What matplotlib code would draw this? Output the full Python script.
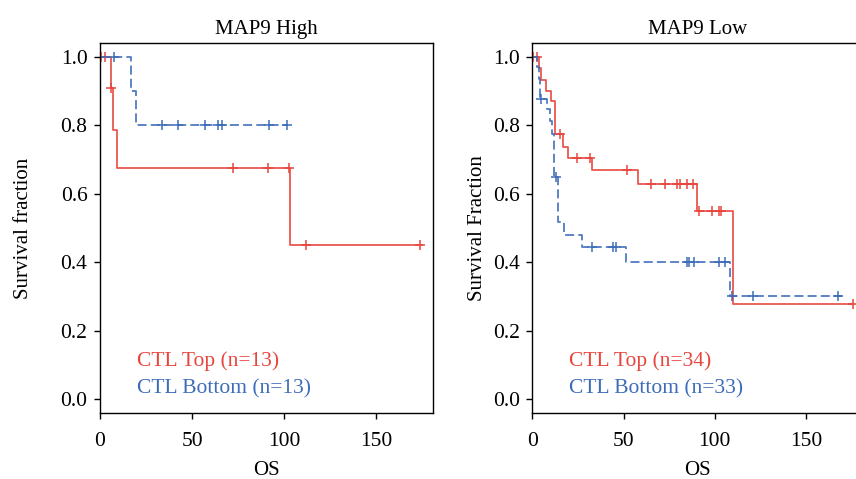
import matplotlib
matplotlib.use("Agg")
import matplotlib.pyplot as plt
import numpy as np

plt.rcParams['font.family'] = ['Liberation Serif', 'DejaVu Serif']
plt.rcParams['lines.scale_dashes'] = False

RED = '#E8453C'
BLUE = '#3D6CB9'

# MAP9 High panel
high_top_t = [0, 5.8, 7.2, 9.0, 103.0]
high_top_s = [1.0, 0.909, 0.787, 0.675, 0.45]
high_top_end = 175.0
high_top_cens = [0.5, 2.7, 6.2, 72.0, 91.4, 102.7, 111.7, 174.0]

high_bot_t = [0, 16.6, 19.5]
high_bot_s = [1.0, 0.9, 0.8]
high_bot_end = 101.6
high_bot_cens = [7.6, 33.5, 42.5, 56.9, 64.2, 66.5, 91.7, 101.6]

# MAP9 Low panel
low_top_t = [0, 3.5, 4.9, 7.3, 10.1, 12.6, 16.8, 19.5, 32.7, 57.9, 90.0, 110.1]
low_top_s = [1.0, 0.968, 0.933, 0.902, 0.870, 0.776, 0.738, 0.706, 0.671, 0.630, 0.551, 0.277]
low_top_end = 175.8
low_top_cens = [0.5, 2.5, 15.0, 24.6, 31.4, 51.8, 64.8, 72.7, 79.4, 80.9, 84.5, 88.2,
                91.3, 98.2, 102.1, 103.5, 175.8]

low_bot_t = [0, 2.4, 3.7, 4.0, 7.9, 9.7, 11.0, 12.1, 14.2, 17.5, 27.4, 51.3, 108.3]
low_bot_s = [1.0, 0.970, 0.936, 0.878, 0.848, 0.814, 0.776, 0.649, 0.518, 0.481, 0.445, 0.401, 0.300]
low_bot_end = 169.8
low_bot_cens = [4.8, 12.8, 32.5, 44.4, 45.7, 84.5, 85.8, 88.5, 102.2, 105.5, 109.5, 120.7, 167.6]


def draw_curve(ax, t, s, end, cens, color, dashed):
    t = np.array(t)
    s = np.array(s)
    xs = np.append(t, end)
    ys = np.append(s, s[-1])
    line, = ax.step(xs, ys, where='post', color=color, lw=1.3, alpha=0.9)
    if dashed:
        line.set_dashes((6.5, 3.0))
    idx = np.searchsorted(t, cens, side='right') - 1
    ax.plot(cens, s[idx], ls='none', marker='+', ms=7, mew=1.1, color=color)


def style_axes(ax, title, ylabel, ypad, n_top, n_bot):
    ax.set_xlim(0, 181)
    ax.set_ylim(-0.04, 1.04)
    ax.set_xticks([0, 50, 100, 150])
    ax.set_yticks([0.0, 0.2, 0.4, 0.6, 0.8, 1.0])
    ax.set_yticklabels(['0.0', '0.2', '0.4', '0.6', '0.8', '1.0'])
    ax.tick_params(labelsize=15.5, length=4, width=1)
    ax.tick_params(axis='x', pad=10)
    ax.tick_params(axis='y', pad=5)
    for sp in ax.spines.values():
        sp.set_linewidth(1.0)
    ax.set_title(title, fontsize=15, pad=7)
    ax.set_xlabel('OS', fontsize=15, labelpad=7)
    ax.set_ylabel(ylabel, fontsize=15, labelpad=ypad)
    ax.text(0.11, 0.126, f'CTL Top (n={n_top})', color=RED, fontsize=15.5,
            transform=ax.transAxes)
    ax.text(0.11, 0.051, f'CTL Bottom (n={n_bot})', color=BLUE, fontsize=15.5,
            transform=ax.transAxes)


fig = plt.figure(figsize=(8.56, 4.79), dpi=100)
ax1 = fig.add_axes([0.1168, 0.1384, 0.3894, 0.7712])
ax2 = fig.add_axes([0.6218, 0.1384, 0.3861, 0.7712])

draw_curve(ax1, high_top_t, high_top_s, high_top_end, high_top_cens, RED, False)
draw_curve(ax1, high_bot_t, high_bot_s, high_bot_end, high_bot_cens, BLUE, True)
style_axes(ax1, 'MAP9 High', 'Survival fraction', 20, 13, 13)

draw_curve(ax2, low_top_t, low_top_s, low_top_end, low_top_cens, RED, False)
draw_curve(ax2, low_bot_t, low_bot_s, low_bot_end, low_bot_cens, BLUE, True)
style_axes(ax2, 'MAP9 Low', 'Survival Fraction', 4, 34, 33)

fig.savefig('out.png', dpi=100)
